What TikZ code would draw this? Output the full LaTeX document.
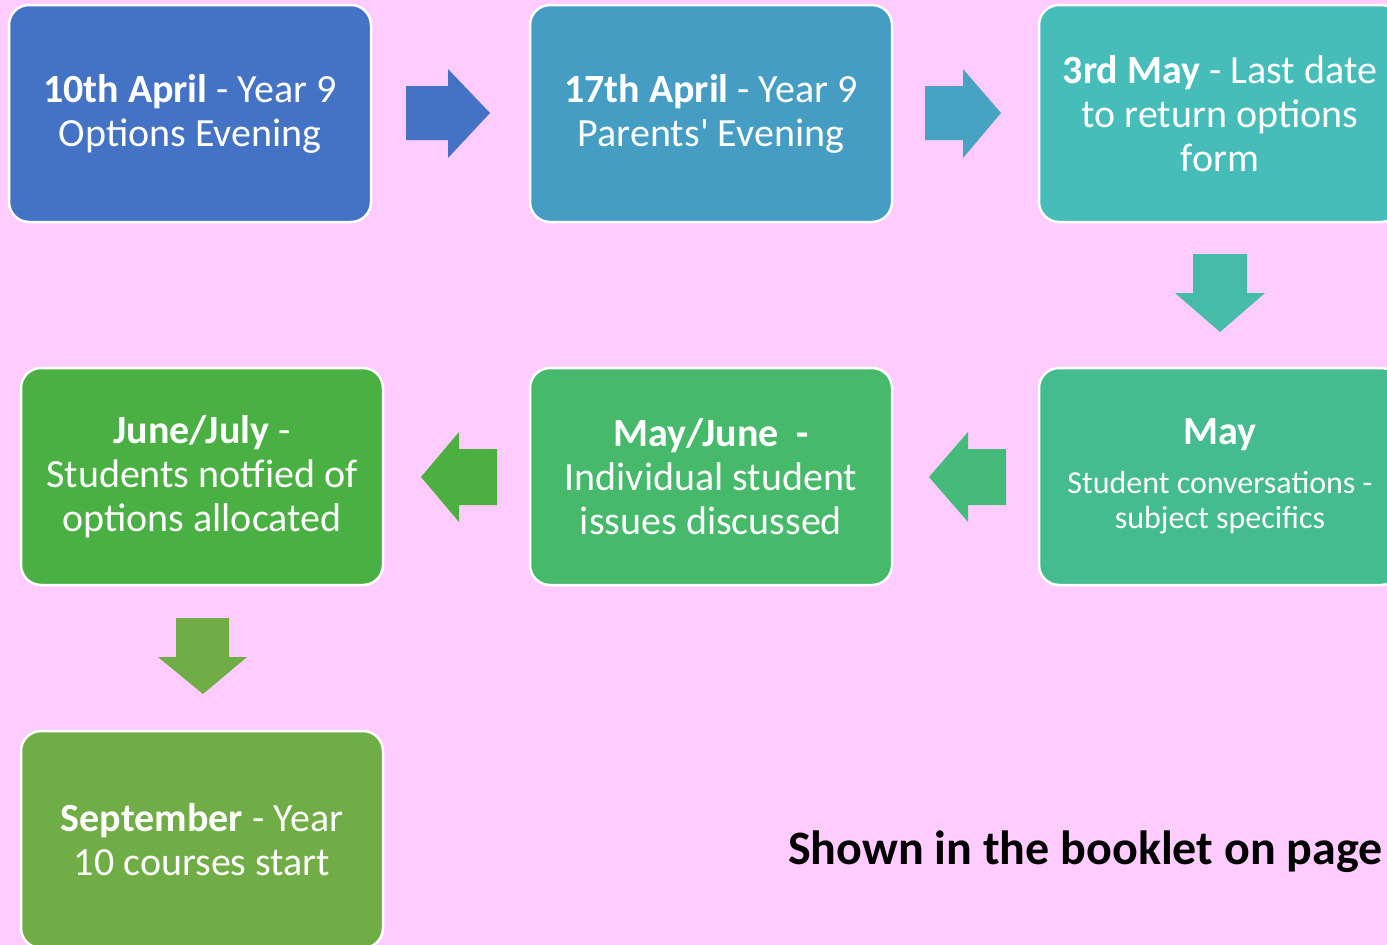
\documentclass[tikz,border=0pt]{standalone}
\usepackage{fontspec}
\setmainfont{Carlito}[Ligatures=TeXOff]
\definecolor{bg}{HTML}{FFCCFF}
\definecolor{cA}{HTML}{4472C4}
\definecolor{cB}{HTML}{459DC4}
\definecolor{cC}{HTML}{46BDB8}
\definecolor{cD}{HTML}{45BC8F}
\definecolor{cE}{HTML}{46B96A}
\definecolor{cF}{HTML}{4BB043}
\definecolor{cG}{HTML}{70AD47}
\definecolor{aA}{HTML}{4472C4}
\definecolor{aB}{HTML}{46A3C4}
\definecolor{aC}{HTML}{46BCA8}
\definecolor{aD}{HTML}{46BA7A}
\definecolor{aE}{HTML}{4CB040}
\definecolor{aF}{HTML}{70AD47}
\newcommand{\smallline}{\fontsize{32}{35}\selectfont}
\begin{document}
\begin{tikzpicture}[x=1pt,y=-1pt,
  box/.style={draw=white, line width=2.5pt, rounded corners=20pt,
    minimum width=362pt, minimum height=217pt, text=white, align=center,
    font=\fontsize{40}{44}\selectfont, inner sep=0pt}]
\clip (0,0) rectangle (1387,945);
\fill[bg] (0,0) rectangle (1387,945);
\node[box, fill=cA] (b1) at (190,113.5) {\textbf{10th April} - Year 9\\Options Evening};
\node[box, fill=cB] (b2) at (711,113.5) {\textbf{17th April} - Year 9\\Parents' Evening};
\node[box, fill=cC] (b3) at (1220,113.5) {\textbf{3rd May} - Last date\\to return options\\form};
\node[box, fill=cD] (b4) at (1220,476.5) {\textbf{May}\\[5pt]\smallline Student conversations -\\[-9pt]\smallline subject specifics};
\node[box, fill=cE] (b5) at (711,476.5) {\textbf{May/June \ -}\\Individual student\\issues discussed};
\node[box, fill=cF] (b6) at (202,476.5) {\textbf{June/July} -\\Students notfied of\\options allocated};
\node[box, fill=cG] (b7) at (202,839.5) {\textbf{September} - Year\\10 courses start};
\node[font=\fontsize{48}{52}\selectfont\bfseries, text=black, anchor=west, inner sep=0pt] (note) at (788,852) {Shown in the booklet on page};
% block arrows
\fill[aA] (406,86) -- (448,86) -- (448,69) -- (490,113) -- (448,158) -- (448,140) -- (406,140) -- cycle;
\fill[aB] (925,86) -- (963,86) -- (963,69) -- (1001,113) -- (963,158) -- (963,140) -- (925,140) -- cycle;
\fill[aC] (1193,254) -- (1247,254) -- (1247,293) -- (1265,293) -- (1220,332) -- (1175,293) -- (1193,293) -- cycle;
\fill[aD] (1006,449) -- (968,449) -- (968,432) -- (929,477) -- (968,522) -- (968,505) -- (1006,505) -- cycle;
\fill[aE] (497,449) -- (459,449) -- (459,432) -- (421,477) -- (459,522) -- (459,505) -- (497,505) -- cycle;
\fill[aF] (176,618) -- (229,618) -- (229,657) -- (247,657) -- (203,694) -- (158,657) -- (176,657) -- cycle;
\end{tikzpicture}
\end{document}
